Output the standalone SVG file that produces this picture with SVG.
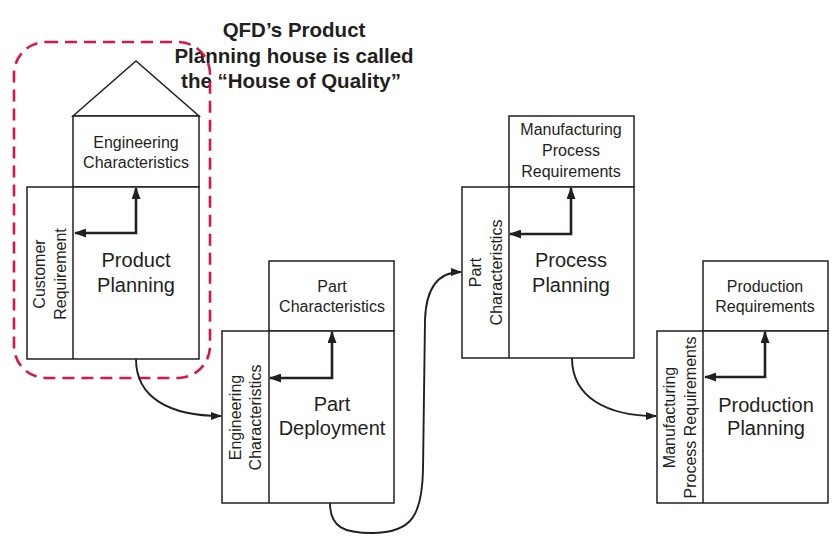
<svg xmlns="http://www.w3.org/2000/svg" width="838" height="543" viewBox="0 0 838 543">
<defs>
<style>
.box{fill:#fff;stroke:#231f20;stroke-width:1.5}
.t{font-family:"Liberation Sans",Arial,sans-serif;fill:#231f20;text-anchor:middle}
.s{font-size:16px}
.b{font-size:20px}
.ttl{font-size:20.5px;font-weight:bold}
.ia{fill:none;stroke:#231f20;stroke-width:2.6;marker-start:url(#ah);marker-end:url(#ah)}
.cn{fill:none;stroke:#231f20;stroke-width:1.9;marker-end:url(#ah2)}
</style>
<marker id="ah" markerUnits="userSpaceOnUse" viewBox="0 0 12 9" refX="11" refY="4.5" markerWidth="12" markerHeight="9" orient="auto-start-reverse"><path d="M0,0 L12,4.5 L0,9 z" fill="#231f20"/></marker>
<marker id="ah2" markerUnits="userSpaceOnUse" viewBox="0 0 11 8" refX="10" refY="4" markerWidth="11" markerHeight="8" orient="auto"><path d="M0,0 L11,4 L0,8 z" fill="#231f20"/></marker>
</defs>
<rect width="838" height="543" fill="#fff"/>

<g id="title">
<text class="t ttl" x="294" y="37">QFD’s Product</text>
<text class="t ttl" x="294" y="62.5">Planning house is called</text>
<text class="t ttl" x="291" y="88">the “House of Quality”</text>
</g>

<g id="product-planning">
<polygon class="box" points="73,116 136,61 199,116"/>
<rect class="box" x="73" y="116" width="126" height="71"/>
<rect class="box" x="27" y="187" width="172" height="172"/>
<line class="box" x1="73" y1="187" x2="73" y2="359"/>
<text class="t s" x="136" y="148">Engineering</text>
<text class="t s" x="136" y="168">Characteristics</text>
<text class="t b" x="136" y="267">Product</text>
<text class="t b" x="136" y="292">Planning</text>
<g transform="translate(50,274) rotate(-90)">
<text class="t s" x="0" y="-5.5">Customer</text>
<text class="t s" x="0" y="15.5">Requirement</text>
</g>
<path class="ia" d="M75,233 H136 V188"/>
</g>

<g id="hoq-highlight">
<rect x="14" y="42" width="196" height="336" rx="32" ry="32" fill="none" stroke="#d9164b" stroke-width="2.6" stroke-dasharray="12,7"/>
</g>

<g id="part-deployment">
<rect class="box" x="269" y="261" width="125" height="70"/>
<rect class="box" x="222" y="331" width="172" height="172"/>
<line class="box" x1="269" y1="331" x2="269" y2="503"/>
<text class="t s" x="332" y="292">Part</text>
<text class="t s" x="332" y="312">Characteristics</text>
<text class="t b" x="332" y="411">Part</text>
<text class="t b" x="332" y="435">Deployment</text>
<g transform="translate(245,417.5) rotate(-90)">
<text class="t s" x="0" y="-4.5">Engineering</text>
<text class="t s" x="0" y="15.5">Characteristics</text>
</g>
<path class="ia" d="M270,378 H332 V332"/>
</g>

<g id="process-planning">
<rect class="box" x="509" y="116" width="125" height="71"/>
<rect class="box" x="462" y="187" width="172" height="171"/>
<line class="box" x1="509" y1="187" x2="509" y2="358"/>
<text class="t s" x="571" y="135">Manufacturing</text>
<text class="t s" x="571" y="156">Process</text>
<text class="t s" x="571" y="177">Requirements</text>
<text class="t b" x="571" y="267">Process</text>
<text class="t b" x="571" y="292">Planning</text>
<g transform="translate(485,272.5) rotate(-90)">
<text class="t s" x="0" y="-4.5">Part</text>
<text class="t s" x="0" y="16.5">Characteristics</text>
</g>
<path class="ia" d="M510,234 H571 V188"/>
</g>

<g id="production-planning">
<rect class="box" x="703" y="261" width="125" height="70"/>
<rect class="box" x="657" y="331" width="171" height="172"/>
<line class="box" x1="703" y1="331" x2="703" y2="503"/>
<text class="t s" x="765" y="292">Production</text>
<text class="t s" x="765" y="312">Requirements</text>
<text class="t b" x="766" y="412">Production</text>
<text class="t b" x="766" y="435">Planning</text>
<g transform="translate(680,417.5) rotate(-90)">
<text class="t s" x="0" y="-5.5">Manufacturing</text>
<text class="t s" x="0" y="15.5">Process Requirements</text>
</g>
<path class="ia" d="M705,377 H765 V332"/>
</g>

<g id="connectors">
<path class="cn" d="M136,359 C136,398 170,416 221,416"/>
<path class="cn" d="M330,503 C330,528 345,533 372,533 C412,533 422,515 423,470 L425,320 C426,288 438,272 461,272"/>
<path class="cn" d="M572,358 C572,398 608,416 656,416"/>
</g>
</svg>
